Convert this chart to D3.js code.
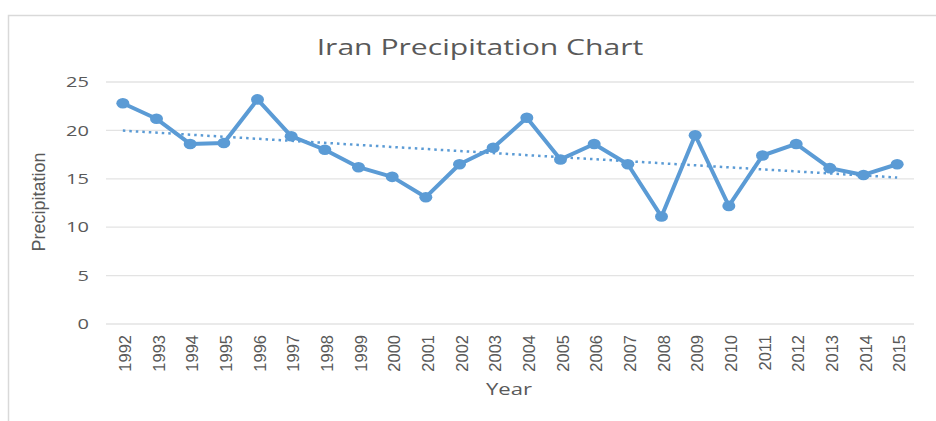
<!DOCTYPE html>
<html>
<head>
<meta charset="utf-8">
<script src="https://cdn.jsdelivr.net/npm/d3@7"></script>
<style>
  body { margin: 0; background: #fff; }
  svg { display: block; }
  .grid line { stroke: #e3e3e3; stroke-width: 1.3; }
  .axis path, .axis line { display: none; }
  .axis--y text { font-family: "Open Sans", sans-serif; font-size: 14.5px; fill: #595959; }
  .axis--x text { font-family: "Liberation Sans Narrow", "Liberation Sans", sans-serif; font-size: 16.5px; fill: #595959; }
</style>
</head>
<body>
<svg width="936" height="421"></svg>
<script>
var years = ["1992","1993","1994","1995","1996","1997","1998","1999","2000","2001","2002","2003",
             "2004","2005","2006","2007","2008","2009","2010","2011","2012","2013","2014","2015"];
var precipitation = [22.8, 21.2, 18.6, 18.7, 23.2, 19.4, 18.0, 16.2, 15.2, 13.1, 16.5, 18.2,
                     21.3, 17.0, 18.6, 16.5, 11.1, 19.5, 12.2, 17.4, 18.6, 16.1, 15.4, 16.5];
var yTicks = [0, 5, 10, 15, 20, 25];

var data = years.map(function(y, i) { return {year: y, value: precipitation[i]}; });

var svg = d3.select("svg"),
    margin = {top: 82, right: 22, bottom: 97, left: 106},
    width = +svg.attr("width") - margin.left - margin.right,
    height = +svg.attr("height") - margin.top - margin.bottom,
    g = svg.append("g").attr("transform", "translate(" + margin.left + "," + margin.top + ")");

// chart frame (top and left edges visible in the picture)
svg.append("path")
    .attr("d", "M8.5,421V15.5H936")
    .attr("fill", "none")
    .attr("stroke", "#d9d9d9")
    .attr("stroke-width", 1.5);

var x = d3.scaleBand().domain(years).range([0, width]);
var y = d3.scaleLinear().domain([0, 25]).range([height, 0]);
var cx = function(d) { return x(d.year) + x.bandwidth() / 2; };

g.append("g")
    .attr("class", "grid")
  .selectAll("line")
  .data(yTicks)
  .enter().append("line")
    .attr("x1", 0).attr("x2", width)
    .attr("y1", function(d) { return y(d); })
    .attr("y2", function(d) { return y(d); });

// the source picture is stretched sideways, so the upright labels get a wide scale
g.append("g")
    .attr("class", "axis axis--y")
    .call(d3.axisLeft(y).tickValues(yTicks).tickSize(0))
  .selectAll("text")
    .attr("x", 0)
    .attr("transform", "translate(-17,0) scale(1.38,1)");

g.append("g")
    .attr("class", "axis axis--x")
    .attr("transform", "translate(0," + height + ")")
    .call(d3.axisBottom(x).tickSize(0))
  .selectAll("text")
    .attr("transform", "rotate(-90)")
    .attr("x", -11)
    .attr("y", 0)
    .attr("dy", "0.5em")
    .style("text-anchor", "end");

// linear trend from least squares
var n = data.length,
    mx = d3.mean(data, function(d, i) { return i; }),
    my = d3.mean(data, function(d) { return d.value; }),
    slope = d3.sum(data, function(d, i) { return (i - mx) * (d.value - my); }) /
            d3.sum(data, function(d, i) { return (i - mx) * (i - mx); }),
    icpt = my - slope * mx;
var trend = [0, n - 1].map(function(i) {
  return {year: years[i], value: icpt + slope * i};
});

var line = d3.line()
    .x(cx)
    .y(function(d) { return y(d.value); });

g.append("path")
    .datum(trend)
    .attr("fill", "none")
    .attr("stroke", "#5b9bd5")
    .attr("stroke-width", 2.5)
    .attr("stroke-dasharray", "2.5,4")
    .attr("d", line);

g.append("path")
    .datum(data)
    .attr("fill", "none")
    .attr("stroke", "#5b9bd5")
    .attr("stroke-width", 4)
    .attr("stroke-linejoin", "round")
    .attr("d", line);

g.selectAll(".dot")
    .data(data)
  .enter().append("ellipse")
    .attr("class", "dot")
    .attr("cx", cx)
    .attr("cy", function(d) { return y(d.value); })
    .attr("rx", 6.5)
    .attr("ry", 5.3)
    .attr("fill", "#5b9bd5");

svg.append("text")
    .attr("transform", "translate(480,55) scale(1.37,1)")
    .attr("text-anchor", "middle")
    .style("font-family", "'Open Sans', sans-serif")
    .style("font-size", "22px")
    .style("fill", "#595959")
    .text("Iran Precipitation Chart");

svg.append("text")
    .attr("transform", "translate(509,395) scale(1.3,1)")
    .attr("text-anchor", "middle")
    .style("font-family", "'Open Sans', sans-serif")
    .style("font-size", "17px")
    .style("fill", "#595959")
    .text("Year");

svg.append("text")
    .attr("transform", "translate(45,202) rotate(-90)")
    .attr("text-anchor", "middle")
    .style("font-family", "'Liberation Sans Narrow', 'Liberation Sans', sans-serif")
    .style("font-size", "18px")
    .style("fill", "#595959")
    .text("Precipitation");
</script>
</body>
</html>
